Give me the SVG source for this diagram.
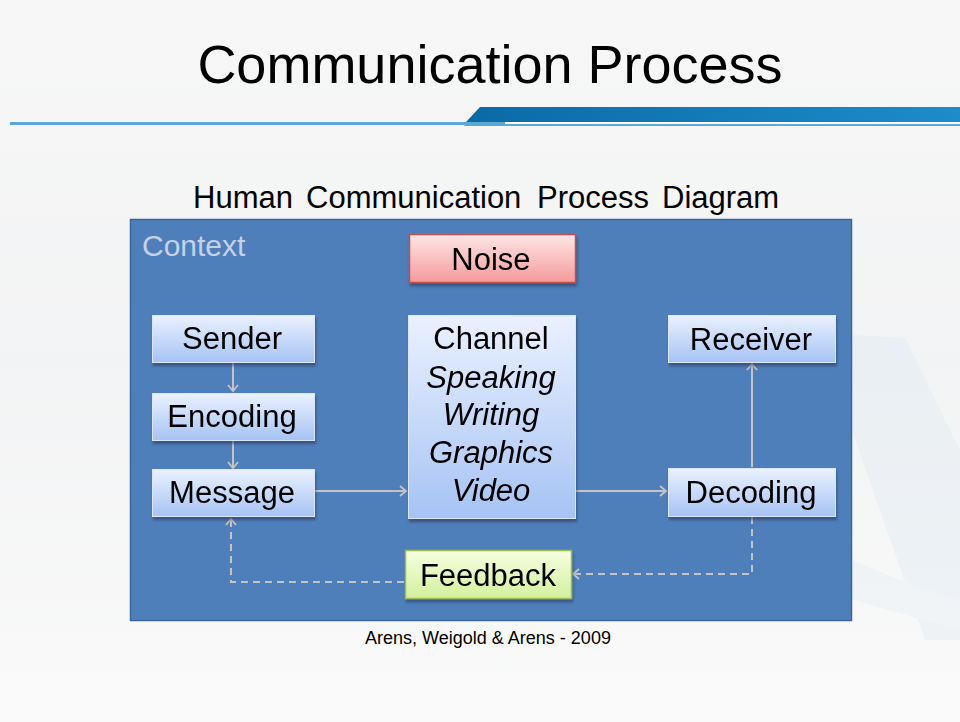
<svg xmlns="http://www.w3.org/2000/svg" width="960" height="722" viewBox="0 0 960 722">
<defs>
<style>
.t{font-family:"Liberation Sans",Arial,sans-serif;fill:#000;}
.bx{font-size:31px;text-anchor:middle;}
.it{font-style:italic;}
.con{fill:none;stroke:#c4c4c4;stroke-width:2;}
.dash{stroke-dasharray:7 5;}
</style>
<linearGradient id="gBlue" x1="0" y1="0" x2="0" y2="1"><stop offset="0" stop-color="#eaf1ff"/><stop offset="1" stop-color="#a6c3f4"/></linearGradient>
<linearGradient id="gRed" x1="0" y1="0" x2="0" y2="1"><stop offset="0" stop-color="#ffe6e6"/><stop offset="1" stop-color="#f49a9a"/></linearGradient>
<linearGradient id="gGreen" x1="0" y1="0" x2="0" y2="1"><stop offset="0" stop-color="#f6ffe2"/><stop offset="1" stop-color="#d3f09c"/></linearGradient>
<linearGradient id="gBar" x1="0" y1="0" x2="1" y2="0"><stop offset="0" stop-color="#0a6aa6"/><stop offset="1" stop-color="#1d8cc9"/></linearGradient>
<linearGradient id="gBg" x1="0" y1="0" x2="0" y2="1"><stop offset="0" stop-color="#f7f7f7"/><stop offset="0.5" stop-color="#f2f3f4"/><stop offset="1" stop-color="#fafafa"/></linearGradient>
<filter id="sh" x="-10%" y="-10%" width="130%" height="140%"><feDropShadow dx="1" dy="3" stdDeviation="1.5" flood-color="#1c3350" flood-opacity="0.55"/></filter>
<marker id="ah" markerWidth="12" markerHeight="12" refX="9" refY="6" orient="auto" markerUnits="userSpaceOnUse"><polyline points="3,1 9,6 3,11" fill="none" stroke="#c4c4c4" stroke-width="1.8"/></marker>
</defs>
<rect width="960" height="722" fill="url(#gBg)"/>
<!-- faint background shapes -->
<g opacity="0.35">
<polygon points="852,335 905,338 960,450 960,640 925,640 852,430" fill="#dce8f2"/>
<polygon points="852,560 900,580 960,600 960,630 852,600" fill="#e4edf4"/>
</g>
<!-- header -->
<text class="t" x="490" y="83" font-size="54" text-anchor="middle">Communication Process</text>
<rect x="10" y="122" width="460" height="3" fill="#5aa8d6"/>
<polygon points="480,107 960,107 960,122 466,122" fill="url(#gBar)"/>
<polygon points="466,122 505,122 505,126 464,126" fill="#5aa8d6"/>
<rect x="505" y="122" width="455" height="2" fill="#ffffff"/>
<rect x="505" y="124" width="455" height="2" fill="#5aa8d6"/>
<text class="t" y="208" font-size="31"><tspan x="193">Human</tspan><tspan x="306">Communication</tspan><tspan x="537">Process</tspan><tspan x="662">Diagram</tspan></text>
<!-- context -->
<g id="context">
<rect x="130.5" y="219.5" width="721" height="401" fill="#4f7fbb" stroke="#3b669c" stroke-width="1.5"/>
<text class="t" x="142" y="256" font-size="30" style="fill:#c3d2e6">Context</text>
</g>
<!-- connectors -->
<g id="connectors">
<line class="con" x1="233" y1="363" x2="233" y2="391" marker-end="url(#ah)"/>
<line class="con" x1="233" y1="441" x2="233" y2="468" marker-end="url(#ah)"/>
<line class="con" x1="315" y1="491" x2="406" y2="491" marker-end="url(#ah)"/>
<line class="con" x1="576" y1="491" x2="666" y2="491" marker-end="url(#ah)"/>
<line class="con" x1="752" y1="467" x2="752" y2="364" marker-end="url(#ah)"/>
<polyline class="con dash" points="752,517 752,574 573,574" marker-end="url(#ah)"/>
<polyline class="con dash" points="404,582 231,582 231,519" marker-end="url(#ah)"/>
</g>
<g id="noise" filter="url(#sh)">
<rect x="409.5" y="234.5" width="166" height="48" fill="url(#gRed)" stroke="#c0504d" stroke-width="1.5"/>
<text class="t bx" x="491" y="270">Noise</text>
</g>
<g id="sender" filter="url(#sh)">
<rect x="152.5" y="315.5" width="162" height="47" fill="url(#gBlue)" stroke="#dbe6f7" stroke-width="1"/>
<text class="t bx" x="232" y="349">Sender</text>
</g>
<g id="encoding" filter="url(#sh)">
<rect x="152.5" y="393.5" width="162" height="47" fill="url(#gBlue)" stroke="#dbe6f7" stroke-width="1"/>
<text class="t bx" x="232" y="427">Encoding</text>
</g>
<g id="message" filter="url(#sh)">
<rect x="152.5" y="469.5" width="162" height="47" fill="url(#gBlue)" stroke="#dbe6f7" stroke-width="1"/>
<text class="t bx" x="232" y="503">Message</text>
</g>
<g id="channel" filter="url(#sh)">
<rect x="408.5" y="315.5" width="167" height="203" fill="url(#gBlue)" stroke="#dbe6f7" stroke-width="1"/>
<text class="t bx" x="491" y="349">Channel</text>
<text class="t bx it" x="491" y="388">Speaking</text>
<text class="t bx it" x="491" y="425">Writing</text>
<text class="t bx it" x="491" y="463">Graphics</text>
<text class="t bx it" x="491" y="501">Video</text>
</g>
<g id="receiver" filter="url(#sh)">
<rect x="668.5" y="315.5" width="167" height="47" fill="url(#gBlue)" stroke="#dbe6f7" stroke-width="1"/>
<text class="t bx" x="751" y="350">Receiver</text>
</g>
<g id="decoding" filter="url(#sh)">
<rect x="668.5" y="468.5" width="167" height="48" fill="url(#gBlue)" stroke="#dbe6f7" stroke-width="1"/>
<text class="t bx" x="751" y="503">Decoding</text>
</g>
<g id="feedback" filter="url(#sh)">
<rect x="405.5" y="550.5" width="166" height="48" fill="url(#gGreen)" stroke="#9bbb59" stroke-width="1.5"/>
<text class="t bx" x="488" y="586">Feedback</text>
</g>
<text class="t" x="488" y="644" font-size="18" text-anchor="middle">Arens, Weigold &amp; Arens - 2009</text>
</svg>
